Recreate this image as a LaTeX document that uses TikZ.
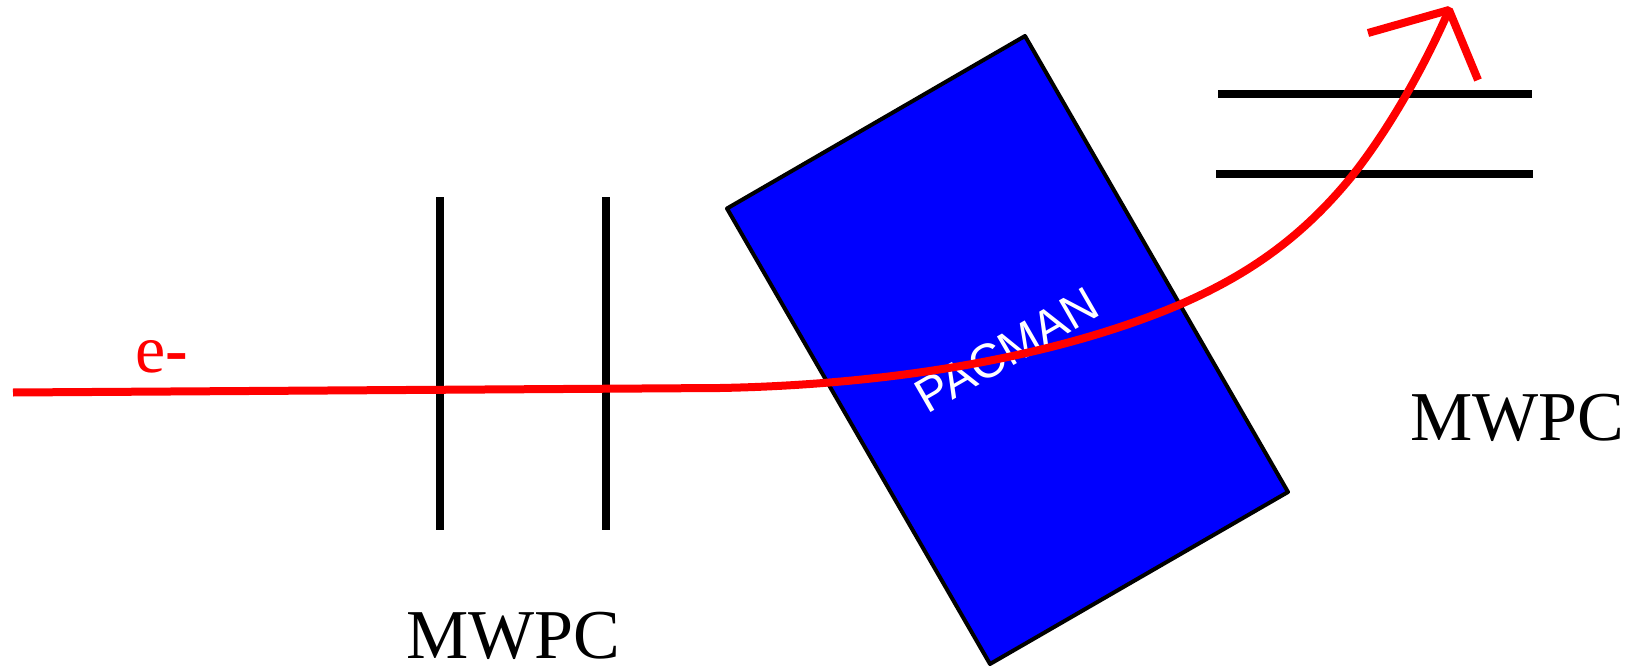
\documentclass[tikz,border=0pt]{standalone}
\usepackage{fontspec}
\setmainfont{Liberation Serif}
\newfontfamily\labelsans{Liberation Sans}
\tikzset{
  wire/.style={draw=black,line width=8pt},
  track/.style={draw=red,line width=8pt,line join=bevel},
  label/.style={inner sep=0pt,outer sep=0pt,font=\fontsize{70}{70}\selectfont},
}
\begin{document}
\begin{tikzpicture}[x=1pt,y=-1pt]
\useasboundingbox (0,0) rectangle (1625,666);
% magnet
\coordinate (c1) at (1025,36);
\coordinate (c2) at (727,208.5);
\coordinate (c3) at (990,664);
\coordinate (c4) at (1288,492);
\draw[fill=blue,draw=black,line width=4pt,line join=round] (c1) -- (c2) -- (c3) -- (c4) -- cycle;
\node[label,text=white,rotate=30,font=\labelsans\fontsize{48}{48}\selectfont] (pacman) at (1007,350) {PACMAN};
% chambers
\coordinate (a1) at (439.5,197); \coordinate (a2) at (439.5,530);
\coordinate (b1) at (606,197); \coordinate (b2) at (606,530);
\coordinate (d1) at (1218,94); \coordinate (d2) at (1532,94);
\coordinate (e1) at (1216,174); \coordinate (e2) at (1533,174);
\draw[wire] (a1) -- (a2);
\draw[wire] (b1) -- (b2);
\draw[wire] (d1) -- (d2);
\draw[wire] (e1) -- (e2);
% track
\coordinate (t0) at (13,392.5);
\coordinate (t1) at (720,388);
\coordinate (t2) at (1181,304);
\coordinate (t3) at (1352,176);
\coordinate (t4) at (1449,10);
\coordinate (h1) at (1368,33);
\coordinate (h2) at (1478,80);
\draw[track] (t0) -- (t1)
  .. controls (880,385) and (1050,360) .. (t2)
  .. controls (1245,276) and (1300,240) .. (t3)
  .. controls (1390,128) and (1425,65) .. (t4);
\draw[track] (h1) -- (t4) -- (h2);
% labels
\node[label,anchor=base,text=red,font=\fontsize{68}{68}\selectfont] (eminus) at (161.5,372) {e{\bfseries -}};
\node[label,anchor=base] (mwpc1) at (513,658) {MWPC};
\node[label,anchor=base] (mwpc2) at (1517,440) {MWPC};
\end{tikzpicture}
\end{document}
